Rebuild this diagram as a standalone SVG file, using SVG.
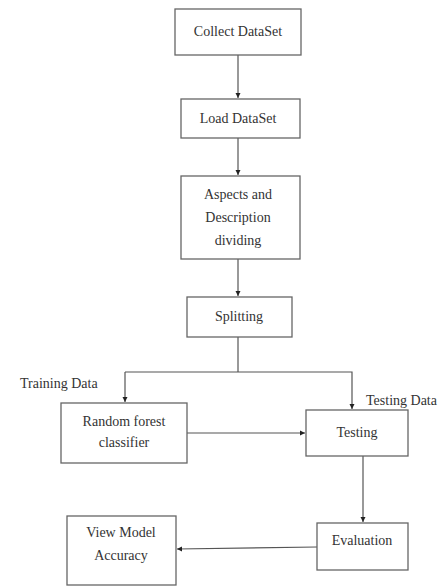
<svg xmlns="http://www.w3.org/2000/svg" width="438" height="586" viewBox="0 0 438 586">
<style>
.box{fill:#fff;stroke:#666;stroke-width:1.3}
text{font-family:'Liberation Serif','DejaVu Serif',serif;font-size:14px;fill:#333}
.t{text-anchor:middle}
.c{fill:none;stroke:#555;stroke-width:1.2}
</style>
<defs>
<marker id="a" markerWidth="6" markerHeight="6" refX="5" refY="3" orient="auto" markerUnits="userSpaceOnUse">
<path d="M0,0.5 L5,3 L0,5.5 Z" fill="#222"/>
</marker>
</defs>
<rect width="438" height="586" fill="#fff"/>
<g id="connectors">
<line class="c" x1="238" y1="55" x2="238" y2="98" marker-end="url(#a)"/>
<line class="c" x1="238" y1="138" x2="238" y2="175" marker-end="url(#a)"/>
<line class="c" x1="238" y1="259" x2="238" y2="296" marker-end="url(#a)"/>
<polyline class="c" points="238,337 238,372"/>
<polyline class="c" points="125,372 352,372 352,409" marker-end="url(#a)"/>
<line class="c" x1="125" y1="372" x2="125" y2="402" marker-end="url(#a)"/>
<line class="c" x1="187" y1="433" x2="305" y2="433" marker-end="url(#a)"/>
<line class="c" x1="363" y1="456" x2="363" y2="522" marker-end="url(#a)"/>
<line class="c" x1="317" y1="547" x2="177" y2="549" marker-end="url(#a)"/>
</g>
<g id="collect"><rect class="box" x="175" y="9" width="126" height="46"/><text class="t" x="238" y="36">Collect DataSet</text></g>
<g id="load"><rect class="box" x="181" y="99" width="119" height="39"/><text class="t" x="238" y="123">Load DataSet</text></g>
<g id="aspects"><rect class="box" x="181" y="176" width="119" height="83"/>
<text class="t" x="238" y="199">Aspects and</text><text class="t" x="238" y="222">Description</text><text class="t" x="238" y="245">dividing</text></g>
<g id="splitting"><rect class="box" x="187" y="297" width="105" height="40"/><text class="t" x="239" y="321">Splitting</text></g>
<g id="rf"><rect class="box" x="61" y="403" width="126" height="60"/>
<text class="t" x="124" y="426">Random forest</text><text class="t" x="124" y="447">classifier</text></g>
<g id="testing"><rect class="box" x="306" y="410" width="102" height="46"/><text class="t" x="357" y="437">Testing</text></g>
<g id="evaluation"><rect class="box" x="317" y="523" width="91" height="47"/><text class="t" x="362" y="545">Evaluation</text></g>
<g id="view"><rect class="box" x="67" y="516" width="109" height="69"/>
<text class="t" x="121" y="537">View Model</text><text class="t" x="121" y="560">Accuracy</text></g>
<g id="labels">
<text x="20" y="388">Training Data</text>
<text x="366" y="405">Testing Data</text>
</g>
</svg>
